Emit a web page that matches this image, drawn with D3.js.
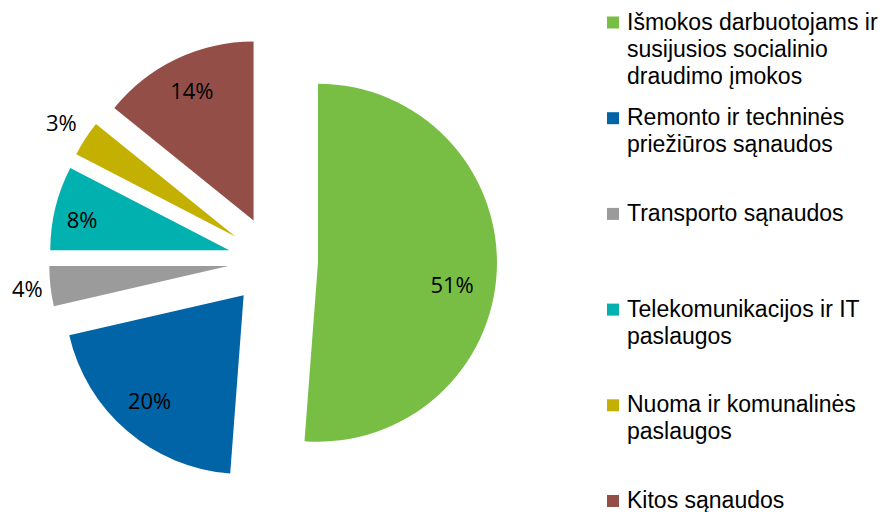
<!DOCTYPE html>
<html>
<head>
<meta charset="utf-8">
<script src="https://cdn.jsdelivr.net/npm/d3@7"></script>
<style>
  html, body { margin: 0; padding: 0; background: #ffffff; }
  svg { display: block; }
</style>
</head>
<body>
<svg id="chart" width="887" height="512"></svg>
<script>
// ---- data ----
const categories = [
  "Išmokos darbuotojams ir susijusios socialinio draudimo įmokos",
  "Remonto ir techninės priežiūros sąnaudos",
  "Transporto sąnaudos",
  "Telekomunikacijos ir IT paslaugos",
  "Nuoma ir komunalinės paslaugos",
  "Kitos sąnaudos"
];
const values = [51.2, 20.2, 3.6, 7.6, 3.2, 14.2];
const legendLines = [
  ["Išmokos darbuotojams ir", "susijusios socialinio", "draudimo įmokos"],
  ["Remonto ir techninės", "priežiūros sąnaudos"],
  ["Transporto sąnaudos"],
  ["Telekomunikacijos ir IT", "paslaugos"],
  ["Nuoma ir komunalinės", "paslaugos"],
  ["Kitos sąnaudos"]
];

// ---- styles ----
const colors = ["#78BE45", "#0064A6", "#9B9B9B", "#00B1AF", "#C4B000", "#934F47"];
const labelRadiusFactor = [0.76, 0.79, 1.13, 0.84, 1.16, 0.80];
const labelAngleShift = [7.5, 1, 0, -2, 0, 0]; // degrees

const svg = d3.select("#chart");
const cx = 273, cy = 261, R = 179, explode = 45;

const pie = d3.pie().sort(null).value(d => d)
  .startAngle(0).endAngle(2 * Math.PI);
const arcs = pie(values);
const arc = d3.arc().innerRadius(0).outerRadius(R);

const g = svg.append("g").attr("transform", `translate(${cx},${cy})`);

const slices = g.selectAll("g.slice").data(arcs).enter().append("g")
  .attr("class", "slice")
  .attr("transform", d => {
    const mid = (d.startAngle + d.endAngle) / 2;
    return `translate(${explode * Math.sin(mid)},${-explode * Math.cos(mid)})`;
  });

slices.append("path")
  .attr("d", arc)
  .attr("fill", (d, i) => colors[i]);

slices.append("text")
  .attr("x", (d, i) => {
    const a = (d.startAngle + d.endAngle) / 2 + labelAngleShift[i] * Math.PI / 180;
    return R * labelRadiusFactor[i] * Math.sin(a);
  })
  .attr("y", (d, i) => {
    const a = (d.startAngle + d.endAngle) / 2 + labelAngleShift[i] * Math.PI / 180;
    return -R * labelRadiusFactor[i] * Math.cos(a);
  })
  .attr("dy", "0.36em")
  .attr("text-anchor", "middle")
  .style("font-family", "Open Sans")
  .style("font-size", "22px")
  .attr("fill", "#000")
  .text(d => Math.round(d.value) + "%");

// ---- legend ----
const legend = svg.append("g").attr("class", "legend");
const lgX = 607, lgTextX = 627, lgFirstBaseline = 29.5, lgStep = 95.7, lineH = 27, sq = 12;

const items = legend.selectAll("g.item").data(categories).enter().append("g")
  .attr("class", "item")
  .attr("transform", (d, i) => `translate(0,${lgFirstBaseline + i * lgStep})`);

items.append("rect")
  .attr("x", lgX)
  .attr("y", -13)
  .attr("width", sq)
  .attr("height", sq)
  .attr("fill", (d, i) => colors[i]);

items.append("text")
  .attr("x", lgTextX)
  .attr("y", 0)
  .style("font-family", "Liberation Sans")
  .style("font-size", "23px")
  .attr("fill", "#000")
  .selectAll("tspan")
  .data((d, i) => legendLines[i])
  .enter().append("tspan")
  .attr("x", lgTextX)
  .attr("dy", (d, j) => j === 0 ? 0 : lineH)
  .text(d => d);
</script>
</body>
</html>
